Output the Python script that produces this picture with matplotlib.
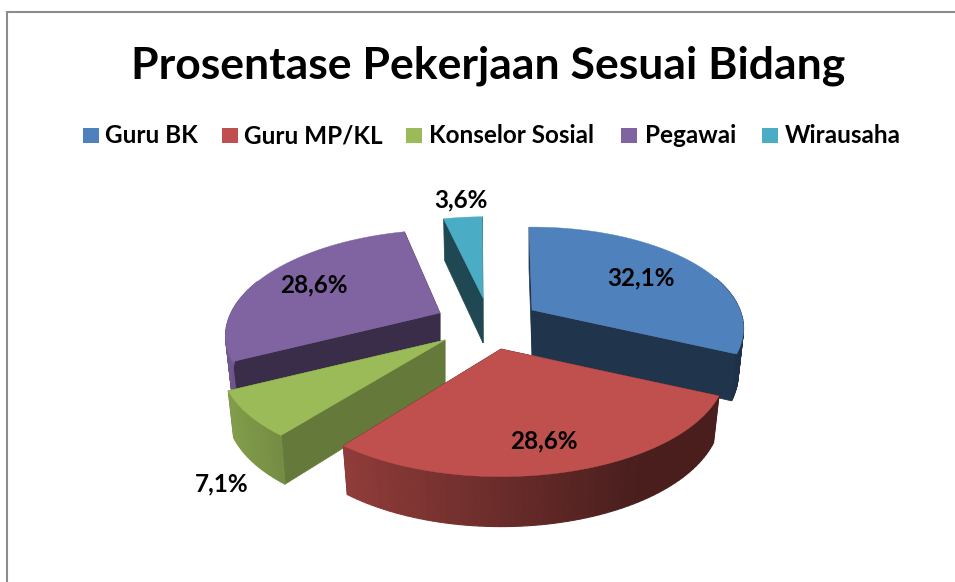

import numpy as np
import matplotlib
matplotlib.use("Agg")
import matplotlib.pyplot as plt
from matplotlib.colors import to_rgb
from matplotlib.patches import Rectangle

# ---- data ----
title = "Prosentase Pekerjaan Sesuai Bidang"
categories = ["Guru BK", "Guru MP/KL", "Konselor Sosial", "Pegawai", "Wirausaha"]
values = [32.1, 28.6, 7.1, 28.6, 3.6]
colors = ["#4f81bd", "#c0504d", "#9bbb59", "#8064a2", "#4bacc6"]

# ---- layout, in pixels of the 955x582 picture ----
apex = [(532, 310), (501, 349), (445, 340), (440, 313), (483, 298)]
skew = [0, 0, -0.09, -0.09, -0.03]           # off-axis lean of each slice
cut_shade = [0.4, 0.4, 0.65, 0.45, 0.42]     # how dark the cut faces are
draw_order = [4, 3, 0, 2, 1]
label_pos = [(641, 278), (544, 441), (222, 484), (314, 285), (461, 200)]
legend_box_x = [83, 222, 406, 621, 762]
legend_text_x = [105, 244, 429, 645, 785]

RX, RY = 208, 98      # top face radii
K = 0.182             # perspective strength
DEPTH = 45
START = -1            # first slice, degrees clockwise from 12 o'clock

plt.rcParams["font.family"] = ["Lato", "DejaVu Sans"]

fig = plt.figure(figsize=(9.55, 5.82), dpi=100, facecolor="white")
ax = fig.add_axes([0, 0, 1, 1])
ax.set_xlim(0, 955)
ax.set_ylim(582, 0)
ax.axis("off")

# chart frame, only left and top fall inside the picture
ax.plot([7, 7, 955], [582, 12, 12], color="#8c8c8c", lw=1.5, solid_joinstyle="miter")


def project(i, ang, r, z):
    """ang in degrees clockwise from the top, r 0..1, z 0 top face, 1 bottom face."""
    a = np.radians(ang)
    x = r * np.sin(a)
    yv = -r * np.cos(a)
    s = 1 / (1 - K * yv)
    scale = 1 + (apex[i][1] - 310) / 600
    dy = RY * scale * yv * s
    dx = (RX * scale * x * s + skew[i] * dy) * (1 - 0.025 * z)
    dy = dy + DEPTH * z * (0.5 + 0.5 * s)
    return apex[i][0] + dx, apex[i][1] + dy


def shade(color, f):
    return tuple(c * f for c in to_rgb(color))


def rim_factor(ang):
    return float(np.clip(0.55 - 0.33 * np.sin(np.radians(ang)), 0.38, 0.95))


def draw_slice(i, a0, a1):
    c = colors[i]
    # cut faces
    for a in (a0, a1):
        xs, ys = zip(project(i, a, 0, 0), project(i, a, 1, 0), project(i, a, 1, 1), project(i, a, 0, 1))
        ax.fill(xs, ys, color=shade(c, cut_shade[i]), lw=0.5, zorder=2)
    # outer rim, thin strips for the gradient, only the part facing the viewer
    lo, hi = max(a0, 70), min(a1, 290)
    if hi > lo:
        angs = np.linspace(lo, hi, int((hi - lo) / 1.5) + 2)
        for u, v in zip(angs[:-1], angs[1:]):
            xs, ys = zip(project(i, u, 1, 0), project(i, v, 1, 0), project(i, v, 1, 1), project(i, u, 1, 1))
            ax.fill(xs, ys, color=shade(c, rim_factor((u + v) / 2)), lw=0.8, zorder=2)
    # top face
    pts = [project(i, a, 1, 0) for a in np.linspace(a0, a1, 120)]
    pts.append(project(i, a0, 0, 0))
    xs, ys = zip(*pts)
    ax.fill(xs, ys, color=c, lw=0.3, zorder=2)


ends = START + np.cumsum(values) / sum(values) * 360
starts = np.concatenate([[START], ends[:-1]])
for i in draw_order:
    draw_slice(i, starts[i], ends[i])

# data labels
for v, (x, y) in zip(values, label_pos):
    ax.text(x, y, f"{v:.1f}".replace(".", ",") + "%", fontsize=17.5, fontweight="bold",
            ha="center", va="center", color="black", zorder=3)

# title and legend
ax.text(488, 79, title, fontsize=32, fontweight="bold", ha="center", va="baseline", color="black")
for name, c, bx, tx in zip(categories, colors, legend_box_x, legend_text_x):
    ax.add_patch(Rectangle((bx, 127.5), 15.5, 15.5, facecolor=c, edgecolor="none"))
    ax.text(tx, 143, name, fontsize=17.5, fontweight="bold", ha="left", va="baseline", color="black")

fig.savefig("out.png", dpi=100, facecolor="white")
